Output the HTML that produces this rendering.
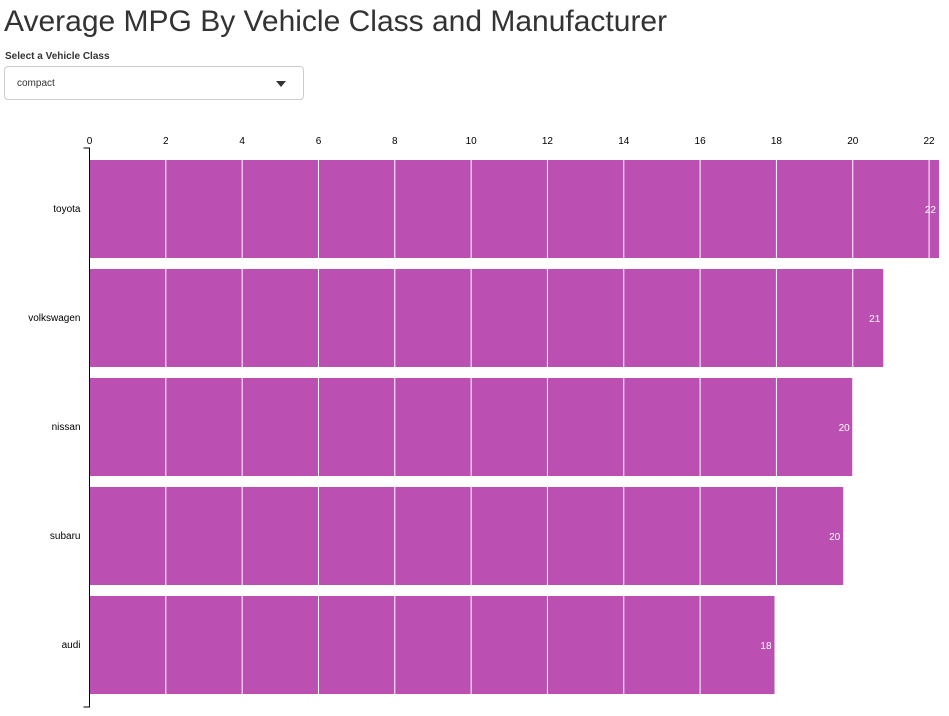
<!DOCTYPE html>
<html><head><meta charset="utf-8"><style>
body{margin:0;width:949px;height:716px;overflow:hidden;background:#fff;font-family:"Liberation Sans",sans-serif;}
h1{position:absolute;left:4px;top:5px;margin:0;font-size:30px;font-weight:normal;color:#333;}
.lbl{position:absolute;left:5px;top:51px;font-size:10px;font-weight:bold;color:#333;}
.sel{position:absolute;left:4px;top:66px;width:300px;height:34px;border:1px solid #ccc;border-radius:4px;box-sizing:border-box;}
.sel span{position:absolute;left:12px;top:11px;font-size:10px;color:#333;}
.sel i{position:absolute;right:17px;top:14px;border-left:5px solid transparent;border-right:5px solid transparent;border-top:6px solid #333;}
svg{position:absolute;left:0;top:0;}
</style></head><body>
<h1>Average MPG By Vehicle Class and Manufacturer</h1>
<div class="lbl">Select a Vehicle Class</div>
<div class="sel"><span>compact</span><i></i></div>
<svg id="c" width="949" height="716"></svg>
<script>
const categories=["toyota","volkswagen","nissan","subaru","audi"];
const values=[22.26,20.8,20.0,19.75,17.95];
const labels=["22","21","20","20","18"];
const ticks=[0,2,4,6,8,10,12,14,16,18,20,22];
const NS="http://www.w3.org/2000/svg";
const svg=document.getElementById('c');
const x0=89.5,x1=939,y0=148,y1=707;
const maxV=Math.max(...values);
const x=v=>x0+(v/maxV)*(x1-x0);
const step=109,bh=98,top0=160;
const y=i=>top0+i*step;
function mk(t,a){const e=document.createElementNS(NS,t);for(const k in a)e.setAttribute(k,a[k]);svg.appendChild(e);return e;}
categories.forEach((c,i)=>{
 const r=mk('rect',{x:x0,y:y(i),width:x(values[i])-x0,height:bh,fill:'#bc4fb2'});
 
 
 const t=mk('text',{x:x0-9,y:y(i)+bh/2+3,'text-anchor':'end','font-size':'10',fill:'#000'});
 t.textContent=c;
 
 
});
ticks.forEach(v=>{
 const X=x(v);
 if(v>0){const l=mk('line',{x1:X,x2:X,y1:top0,y2:y(categories.length-1)+bh,stroke:'#fff','stroke-width':1});
 
 }
 const t=mk('text',{x:X,y:144,'text-anchor':'middle','font-size':'10',fill:'#000'});
 t.textContent=v;
 
 
});
categories.forEach((c,i)=>{
 const t=mk('text',{x:x(values[i])-3,y:y(i)+bh/2+4,'text-anchor':'end','font-size':'10',fill:'#fff'});
 t.textContent=labels[i];
 
 
});
const ax=mk('path',{d:`M${x0-6},${y0}H${x0}V${y1}H${x0-6}`,fill:'none',stroke:'#000','stroke-width':1});


</script>
</body></html>
